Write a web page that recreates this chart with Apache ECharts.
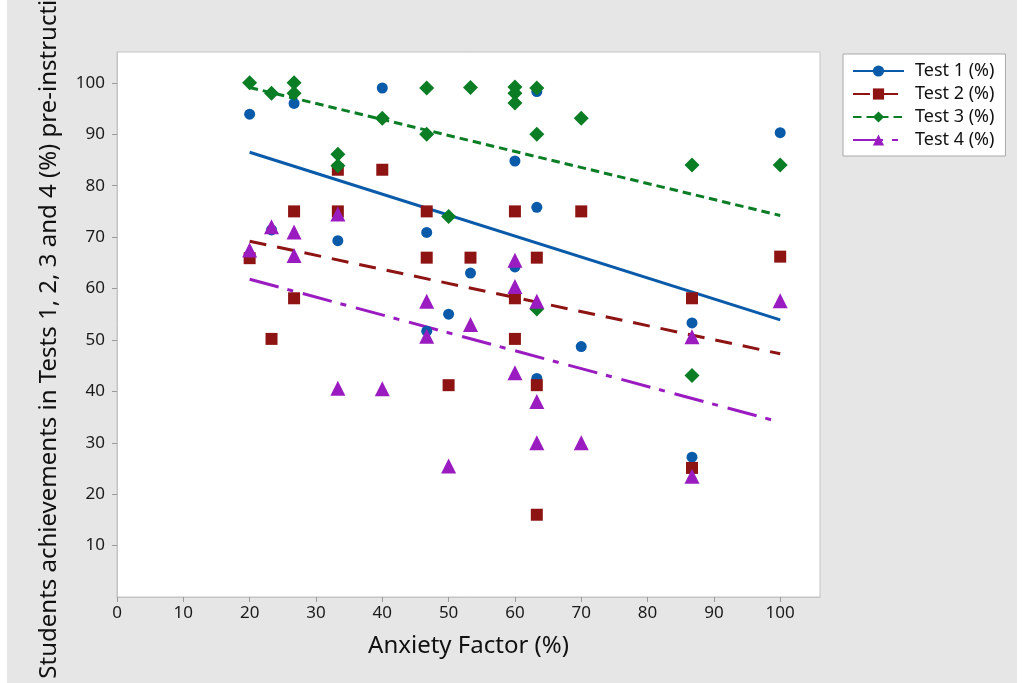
<!DOCTYPE html>
<html>
<head>
<meta charset="utf-8">
<script src="https://cdn.jsdelivr.net/npm/echarts@6/dist/echarts.min.js"></script>
<style>
  html, body { margin: 0; padding: 0; background: #ffffff; }
  #chart {
    width: 1022px; height: 683px;
    background: linear-gradient(to right, #ffffff 0 7px, #e6e6e6 7px 1017px, #ffffff 1017px);
  }
</style>
</head>
<body>
<div id="chart"></div>
<script>
// Scores per test against the anxiety factor: [anxiety %, score %]
const test1 = [[20, 93.9], [23.3, 71.4], [26.7, 96], [33.3, 69.3], [40, 99], [46.7, 70.9], [46.7, 51.7],
  [50, 55], [53.3, 63], [60, 84.8], [60, 64.2], [63.3, 98.3], [63.3, 75.8], [63.3, 42.5], [70, 48.7],
  [86.7, 53.3], [86.7, 27.2], [100, 90.3]];
const test2 = [[20, 65.9], [23.3, 50.2], [26.7, 75], [26.7, 58.1], [33.3, 83.1], [33.3, 75], [40, 83.1],
  [46.7, 75], [46.7, 66], [50, 41.2], [53.3, 66], [60, 75], [60, 58.1], [60, 50.2], [63.3, 66],
  [63.3, 41.2], [63.3, 16], [70, 75], [86.7, 58.1], [86.7, 25.1], [100, 66.2]];
const test3 = [[20, 100], [23.3, 98], [26.7, 100], [26.7, 98], [33.3, 86.1], [33.3, 83.9], [40, 93.1],
  [46.7, 99], [46.7, 90], [50, 74], [53.3, 99.1], [60, 99.2], [60, 98], [60, 96.1], [63.3, 99],
  [63.3, 90], [63.3, 56], [70, 93.1], [86.7, 84], [86.7, 43.1], [100, 84]];
const test4 = [[20, 67.5], [23.3, 72], [26.7, 71], [26.7, 66.4], [33.3, 74.5], [33.3, 40.6], [40, 40.5],
  [46.7, 57.5], [46.7, 50.7], [50, 25.5], [53.3, 53], [60, 65.5], [60, 60.4], [60, 43.6], [63.3, 57.5],
  [63.3, 38], [63.3, 30], [70, 30], [86.7, 50.6], [86.7, 23.5], [100, 57.6]];

// Fitted trend lines (end values of each regression line)
const fit1 = [[20, 86.5], [100, 53.9]];
const fit2 = [[20, 69.2], [100, 47.3]];
const fit3 = [[20, 99.1], [100, 74.2]];
const fit4 = [[20, 61.8], [100, 34.0]];

const names = ['Test 1 (%)', 'Test 2 (%)', 'Test 3 (%)', 'Test 4 (%)'];
const colors = ['#0a5aaa', '#8e1414', '#0a7d25', '#9a1cc0'];
const symbols = ['circle', 'rect', 'diamond', 'triangle'];
const symbolSizes = [11, 12, 15, 15];
const dashes = ['solid', [17, 11], [8.5, 5], [30, 9, 6, 10]];
const points = [test1, test2, test3, test4];
const fits = [fit1, fit2, fit3, fit4];

const FONT = 'Noto Sans';

const series = [];
// trend lines first so the legend shows a line with its marker
for (let i = 0; i < 4; i++) {
  series.push({
    name: names[i],
    type: 'line',
    data: fits[i],
    symbol: symbols[i],
    symbolSize: symbolSizes[i],
    showSymbol: false,
    silent: true,
    z: 3,
    itemStyle: { color: colors[i] },
    lineStyle: { color: colors[i], width: 3, type: dashes[i], cap: 'butt' },
    animation: false
  });
}
for (let i = 0; i < 4; i++) {
  series.push({
    name: names[i],
    type: 'scatter',
    data: points[i],
    symbol: symbols[i],
    symbolSize: symbolSizes[i],
    z: 4 + i,
    itemStyle: { color: colors[i], opacity: 1 },
    animation: false
  });
}

const chart = echarts.init(document.getElementById('chart'), null, { renderer: 'canvas' });
chart.setOption({
  backgroundColor: 'transparent',
  animation: false,
  textStyle: { fontFamily: FONT },
  grid: {
    left: 117, top: 52, width: 703, height: 545,
    outerBoundsMode: 'none',
    containLabel: false,
    show: true, backgroundColor: '#ffffff', borderColor: '#c4c4c4', borderWidth: 1
  },
  legend: {
    orient: 'vertical',
    left: 843, top: 54,
    data: names,
    backgroundColor: '#ffffff',
    borderColor: '#a8a8a8',
    borderWidth: 1,
    padding: [8, 11, 7, 9],
    itemWidth: 51,
    itemHeight: 14,
    itemGap: 5,
    textStyle: { fontFamily: FONT, fontSize: 18, color: '#111', padding: [0, 0, 0, 6] }
  },
  xAxis: {
    type: 'value',
    min: 0, max: 106, interval: 10,
    name: 'Anxiety Factor (%)',
    nameLocation: 'middle',
    nameGap: 37,
    nameTextStyle: { fontFamily: FONT, fontSize: 24, color: '#111' },
    axisLine: { show: true, lineStyle: { color: '#c4c4c4' } },
    axisTick: { show: true, length: 5, lineStyle: { color: '#9a9a9a' } },
    axisLabel: { fontFamily: FONT, fontSize: 17, color: '#1a1a1a', margin: 8, showMaxLabel: false },
    splitLine: { show: false }
  },
  yAxis: {
    type: 'value',
    min: 0, max: 106, interval: 10,
    name: 'Students achievements in Tests 1, 2, 3 and 4 (%) pre-instruction',
    nameLocation: 'middle',
    nameGap: 56,
    nameTextStyle: { fontFamily: FONT, fontSize: 24, color: '#111' },
    axisLine: { show: true, lineStyle: { color: '#c4c4c4' } },
    axisTick: { show: true, length: 5, lineStyle: { color: '#9a9a9a' } },
    axisLabel: { fontFamily: FONT, fontSize: 17, color: '#1a1a1a', margin: 12, showMinLabel: false, showMaxLabel: false },
    splitLine: { show: false }
  },
  series: series
});
</script>
</body>
</html>
